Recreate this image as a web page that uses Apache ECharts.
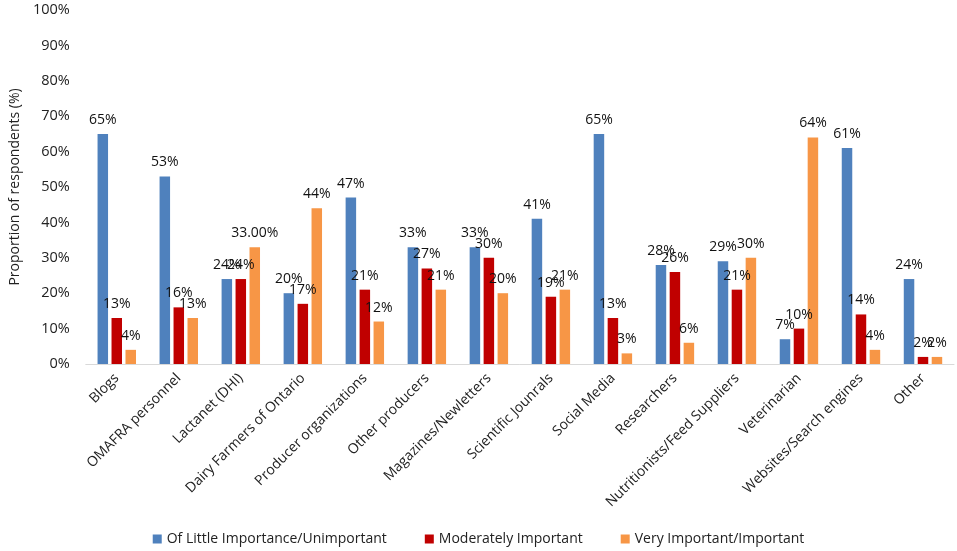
<!DOCTYPE html>
<html lang="en">
<head>
  <meta charset="utf-8">
  <title>Proportion of respondents</title>
  <script src="https://cdn.jsdelivr.net/npm/echarts@6/dist/echarts.min.js"></script>
  <style>
    html, body { margin: 0; padding: 0; background: #fff; }
    #chart { width: 957px; height: 551px; }
  </style>
</head>
<body>
  <div id="chart"></div>
  <script type="text/javascript">
  // categories and values (%)
  var categories = ['Blogs', 'OMAFRA personnel', 'Lactanet (DHI)', 'Dairy Farmers of Ontario',
    'Producer organizations', 'Other producers', 'Magazines/Newletters', 'Scientific Jounrals',
    'Social Media', 'Researchers', 'Nutritionists/Feed Suppliers', 'Veterinarian',
    'Websites/Search engines', 'Other'];
  var littleImportance = [65, 53, 24, 20, 47, 33, 33, 41, 65, 28, 29, 7, 61, 24];
  var moderately = [13, 16, 24, 17, 21, 27, 30, 19, 13, 26, 21, 10, 14, 2];
  var veryImportant = [4, 13, 33, 44, 12, 21, 20, 21, 3, 6, 30, 64, 4, 2];
  var seriesNames = ['Of Little Importance/Unimportant', 'Moderately Important', 'Very Important/Important'];
  var yTicks = { min: 0, max: 100, interval: 10 };
  // the one label in the original that is printed with decimals
  var labelOverride = { '2-2': '33.00%' };

  var chart = echarts.init(document.getElementById('chart'));
  var font = 'Open Sans';

  function barSeries(name, data, color) {
    return {
      name: name,
      type: 'bar',
      data: data,
      barWidth: 10.5,
      barGap: '33%',
      itemStyle: { color: color },
      label: {
        show: true,
        position: 'top',
        distance: 7,
        color: '#111',
        fontFamily: font,
        fontSize: 14,
        formatter: function (p) {
          var k = p.seriesIndex + '-' + p.dataIndex;
          return labelOverride[k] || (p.value + '%');
        }
      }
    };
  }

  var option = {
    animation: false,
    grid: { left: 75, right: 3, top: 10, bottom: 187, containLabel: false },
    legend: {
      bottom: 0,
      left: 'center',
      icon: 'rect',
      itemWidth: 9,
      itemHeight: 9,
      itemGap: 38,
      textStyle: { fontFamily: font, fontSize: 14, color: '#222' },
      data: seriesNames
    },
    xAxis: {
      type: 'category',
      data: categories,
      axisTick: { show: false },
      axisLine: { lineStyle: { color: '#d9d9d9' } },
      axisLabel: {
        rotate: 45,
        interval: 0,
        margin: 12,
        color: '#222',
        fontFamily: font,
        fontSize: 14
      }
    },
    yAxis: {
      type: 'value',
      min: yTicks.min,
      max: yTicks.max,
      interval: yTicks.interval,
      name: 'Proportion of respondents (%)',
      nameLocation: 'middle',
      nameGap: 62,
      nameTextStyle: { fontFamily: font, fontSize: 14, color: '#222' },
      splitLine: { show: false },
      axisLine: { show: false },
      axisTick: { show: false },
      axisLabel: {
        formatter: '{value}%',
        margin: 16,
        color: '#222',
        fontFamily: font,
        fontSize: 14.5
      }
    },
    series: [
      barSeries(seriesNames[0], littleImportance, '#4F81BD'),
      barSeries(seriesNames[1], moderately, '#C00000'),
      barSeries(seriesNames[2], veryImportant, '#F79646')
    ]
  };
  chart.setOption(option);
  </script>
</body>
</html>
